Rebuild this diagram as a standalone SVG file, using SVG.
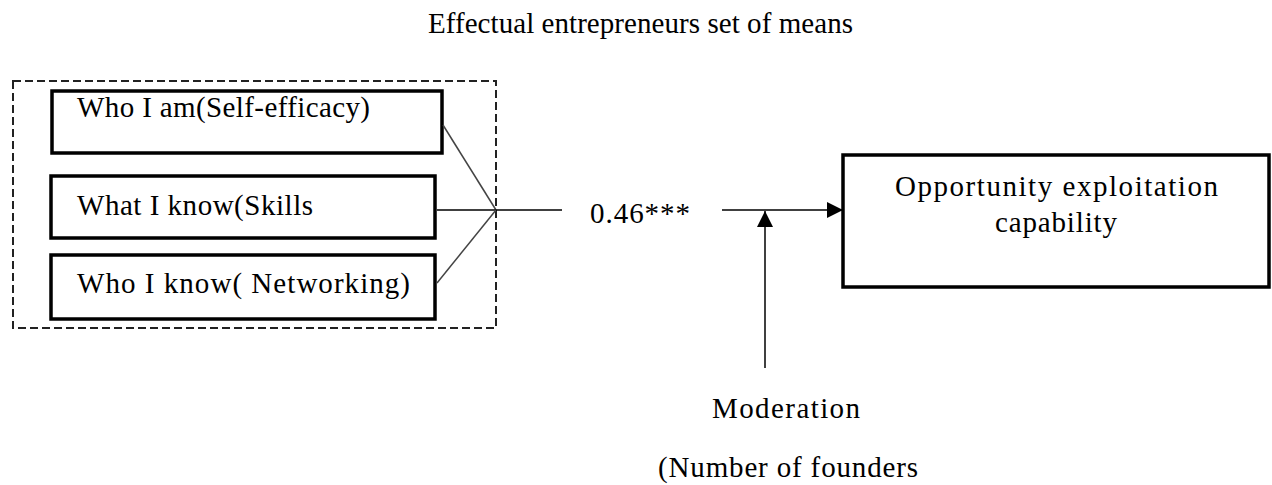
<svg xmlns="http://www.w3.org/2000/svg" width="1272" height="485" viewBox="0 0 1272 485">
  <style>
    .t { font-family: "Liberation Serif", "Times New Roman", serif; font-size: 29px; fill: #000; }
    .title { font-size: 29px; }
    .box { fill: #fff; stroke: #000; stroke-width: 3.5; }
    .dash { fill: none; stroke: #222; stroke-width: 2; stroke-dasharray: 8 4; }
    .ln { fill: none; stroke: #000; stroke-width: 1.5; }
    .diag { fill: none; stroke: #444; stroke-width: 1.5; }
  </style>
  <defs>
    <marker id="arr" viewBox="0 0 16 16" refX="16" refY="8" markerWidth="16" markerHeight="16" markerUnits="userSpaceOnUse" orient="auto">
      <path d="M0,0 L16,8 L0,16 Z" fill="#000"/>
    </marker>
  </defs>
  <rect width="1272" height="485" fill="#fff"/>

  <text id="title" class="t title" x="428" y="33" textLength="425" lengthAdjust="spacing">Effectual entrepreneurs set of means</text>

  <g id="means-group">
    <rect class="dash" x="13" y="81" width="483" height="247"/>
  </g>

  <g id="who-i-am">
    <rect class="box" x="52" y="91" width="390" height="62"/>
    <text class="t" x="77" y="117" textLength="293" lengthAdjust="spacing">Who I am(Self-efficacy)</text>
  </g>

  <g id="what-i-know">
    <rect class="box" x="51" y="176" width="384" height="62"/>
    <text class="t" x="77" y="215" textLength="236" lengthAdjust="spacing">What I know(Skills</text>
  </g>

  <g id="who-i-know">
    <rect class="box" x="51" y="255" width="384" height="64"/>
    <text class="t" x="77" y="293" textLength="333" lengthAdjust="spacing">Who I know( Networking)</text>
  </g>

  <g id="opportunity">
    <rect class="box" x="843" y="155" width="426" height="132"/>
    <text class="t" x="895" y="196" textLength="323" lengthAdjust="spacing">Opportunity exploitation</text>
    <text class="t" x="995" y="232" textLength="122" lengthAdjust="spacing">capability</text>
  </g>

  <g id="moderation">
    <text class="t" x="712" y="418" textLength="148" lengthAdjust="spacing">Moderation</text>
    <text class="t" x="658" y="477" textLength="260" lengthAdjust="spacing">(Number of founders</text>
  </g>

  <g id="connectors">
    <line class="diag" x1="443" y1="125" x2="496" y2="210"/>
    <line class="ln" x1="437" y1="210" x2="496" y2="210"/>
    <line class="diag" x1="437" y1="283" x2="496" y2="210"/>
    <line class="ln" x1="496" y1="210" x2="562" y2="210"/>
    <line class="ln" x1="722" y1="210" x2="843" y2="210" marker-end="url(#arr)"/>
    <line class="ln" x1="765" y1="368" x2="765" y2="211" marker-end="url(#arr)"/>
    <text class="t" x="590" y="223" textLength="100" lengthAdjust="spacing">0.46***</text>
  </g>
</svg>
